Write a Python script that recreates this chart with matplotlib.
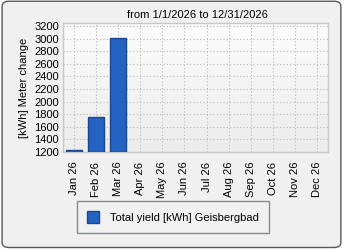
import matplotlib
matplotlib.use("Agg")
import matplotlib.pyplot as plt
import numpy as np
from matplotlib.patches import FancyBboxPatch

months = ["Jan 26", "Feb 26", "Mar 26", "Apr 26", "May 26", "Jun 26",
          "Jul 26", "Aug 26", "Sep 26", "Oct 26", "Nov 26", "Dec 26"]
values = [1238, 1757, 3019]  # only Jan-Mar have data
yticks = [1200, 1400, 1600, 1800, 2000, 2200, 2400, 2600, 2800, 3000, 3200]
series_name = "Total yield [kWh] Geisbergbad"
title = "from 1/1/2026 to 12/31/2026"
ylabel = "[kWh] Meter change"

plt.rcParams['font.family'] = ['Liberation Sans', 'DejaVu Sans']
FS = 8
fig = plt.figure(figsize=(3.45, 2.5), dpi=100)
fig.patch.set_facecolor('white')
frame = FancyBboxPatch((0.006, 0.01), 0.982, 0.985, boxstyle="round,pad=0,rounding_size=0.02",
                       transform=fig.transFigure, facecolor='#f0f0f0', edgecolor='#555a60',
                       linewidth=1.0, zorder=-10)
fig.patches.append(frame)

ax = fig.add_axes([63/345, 1 - 152/250, (328 - 63)/345, (152 - 23)/250])
ax.set_facecolor('none')
grad = np.linspace(1, 0, 100).reshape(-1, 1)
ax.imshow(grad, extent=[-0.5, 11.5, 1200, 3250], aspect='auto',
          cmap=matplotlib.colors.LinearSegmentedColormap.from_list('g', ['#ececec', '#fcfcfc']),
          zorder=0)

x = np.arange(len(months))
bottom = 1200
xv = x[:len(values)]
heights = [v - bottom for v in values]
ax.bar(xv, heights, bottom=bottom, width=0.75, color='#2563c2', edgecolor='#1c4690',
       linewidth=1.0, zorder=3, label=series_name)

ax.set_xlim(-0.5, 11.5)
ax.set_ylim(1200, 3250)
ax.set_yticks(yticks)
ax.set_xticks(x)
ax.set_xticklabels(months, rotation=90, fontsize=FS)
ax.tick_params(axis='y', labelsize=FS, length=0, pad=3)
ax.tick_params(axis='x', length=0, pad=7)
ax.grid(True, color='#b8b8b8', linestyle=(0, (1, 2)), linewidth=0.8, zorder=1)
for s in ax.spines.values():
    s.set_color('#c8c8c8')
    s.set_linewidth(1.0)
ax.set_ylabel(ylabel, fontsize=FS, labelpad=4)
fig.text(197/345, 1 - 15/250, title, ha='center', va='center', fontsize=FS)

handles, labels = ax.get_legend_handles_labels()
leg = fig.legend(handles, labels, loc='center', bbox_to_anchor=(173/345, 1 - 217/250),
                 fontsize=FS, frameon=True, fancybox=False, handlelength=1.0, handleheight=1.3,
                 borderpad=0.9, handletextpad=1.0, borderaxespad=0)
leg.get_frame().set_edgecolor('#6a7078')
leg.get_frame().set_facecolor('#f2f2f2')
leg.get_frame().set_linewidth(1.0)

fig.savefig('out.png', dpi=100)
